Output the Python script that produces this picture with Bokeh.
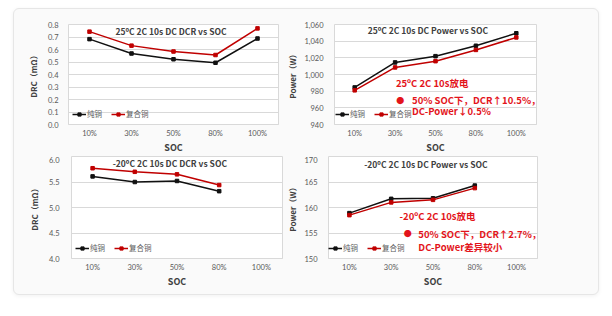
from bokeh.plotting import figure
from bokeh.models import ColumnDataSource, FactorRange, Range1d, Label, NumeralTickFormatter, FixedTicker
from bokeh.layouts import row, column
from bokeh.embed import file_html
from bokeh.resources import INLINE

soc = ["10%", "30%", "50%", "80%", "100%"]
dcr25_cu = [0.683, 0.568, 0.522, 0.494, 0.688]
dcr25_comp = [0.743, 0.631, 0.584, 0.556, 0.769]
pw25_cu = [984.5, 1014.5, 1022.0, 1034.5, 1049.5]
pw25_comp = [981.0, 1008.5, 1016.0, 1029.5, 1044.5]
dcrm20_cu = [5.61, 5.50, 5.52, 5.32]
dcrm20_comp = [5.77, 5.70, 5.65, 5.44]
pwm20_cu = [158.9, 161.7, 161.8, 164.3]
pwm20_comp = [158.5, 161.0, 161.5, 163.8]
names = ["纯铜", "复合铜"]

CJK = "Noto Sans CJK SC"
TICKF = "Lato"
RED_ANN = "#e3141b"


def make_fig(w, h, bl, br, bt, bb, y0, y1, step, fmt, ylabel, s1, s2, title, tx, ty, leg_loc, ystand, ylstand):
    p = figure(width=w, height=h, x_range=FactorRange(*soc), y_range=Range1d(y0, y1),
               output_backend="svg", toolbar_location=None, tools="", title_location=None,
               min_border_left=bl, min_border_right=br, min_border_top=bt, min_border_bottom=bb)
    p.background_fill_color = "white"
    p.border_fill_color = None
    p.outline_line_color = "#d9d9d9"
    p.xgrid.grid_line_color = None
    p.ygrid.grid_line_color = "#d9d9d9"
    p.ygrid.grid_line_width = 1
    n = int(round((y1 - y0) / step))
    p.yaxis.ticker = FixedTicker(ticks=[y0 + i * step for i in range(n + 1)])
    p.yaxis.formatter = NumeralTickFormatter(format=fmt)
    for ax in (p.xaxis[0], p.yaxis[0]):
        ax.axis_line_color = None
        ax.major_tick_line_color = None
        ax.minor_tick_line_color = None
        ax.major_tick_out = 0
        ax.major_tick_in = 0
        ax.minor_tick_out = 0
        ax.minor_tick_in = 0
        ax.major_label_text_font = TICKF
        ax.major_label_text_font_size = "7.5px"
        ax.major_label_text_color = "#595959"
        ax.axis_label_text_font = CJK
        ax.axis_label_text_font_style = "bold"
        ax.axis_label_text_color = "#404040"
    p.xaxis.axis_line_color = "#d9d9d9"
    p.yaxis.major_label_standoff = ystand
    p.xaxis.major_label_standoff = 4
    p.xaxis.axis_label = "SOC"
    p.xaxis.axis_label_text_font_size = "9px"
    p.xaxis.axis_label_standoff = 0
    p.yaxis.axis_label = ylabel
    p.yaxis.axis_label_text_font_size = "8px"
    p.yaxis.axis_label_standoff = ylstand

    src1 = ColumnDataSource(dict(x=soc[:len(s1)], y=s1))
    src2 = ColumnDataSource(dict(x=soc[:len(s2)], y=s2))
    p.line("x", "y", source=src1, color="#111111", line_width=1.5, legend_label=names[0])
    p.scatter("x", "y", source=src1, marker="square", size=3.5, color="#111111", legend_label=names[0])
    p.line("x", "y", source=src2, color="#c00000", line_width=1.5, legend_label=names[1])
    p.scatter("x", "y", source=src2, marker="square", size=3.5, color="#c00000", legend_label=names[1])

    lg = p.legend[0]
    lg.orientation = "horizontal"
    lg.location = leg_loc
    lg.background_fill_alpha = 0
    lg.border_line_color = None
    lg.label_text_font = CJK
    lg.label_text_font_size = "7.5px"
    lg.label_text_color = "#595959"
    lg.glyph_width = 14
    lg.glyph_height = 8
    lg.label_standoff = 1
    lg.spacing = 4
    lg.padding = 2
    lg.margin = 0
    lg.label_height = 8

    p.add_layout(Label(x=tx, y=ty, text=title, text_font=CJK, text_font_style="bold",
                       text_font_size="8.5px", text_color="#404040",
                       text_align="center", text_baseline="middle"))
    return p


p1 = make_fig(270, 147, 54, 6, 15, 28, 0.0, 0.8, 0.1, "0.0", "DRC（mΩ）",
              dcr25_cu, dcr25_comp, "25ºC 2C 10s DC DCR vs SOC", 2.44, 0.752, (4, 5), 10, 6)
p2 = make_fig(314, 147, 48, 62, 15, 28, 940, 1060, 20, "0,0", "Power（W）",
              pw25_cu, pw25_comp, "25ºC 2C 10s DC Power vs SOC", 2.31, 1053, (1, 5), 11, 3)
p3 = make_fig(270, 138, 57, 2, 0, 36, 4.0, 6.0, 0.5, "0.0", "DRC（mΩ）",
              dcrm20_cu, dcrm20_comp, "-20ºC 2C 10s DC DCR vs SOC", 2.33, 5.863, (4, 5), 12, 6)
p4 = make_fig(314, 138, 43, 61, 0, 36, 150, 170, 5, "0", "Power（W）",
              pwm20_cu, pwm20_comp, "-20ºC 2C 10s DC Power vs SOC", 2.33, 168.6, (0, 5), 11, 3)


def ann(p, x, y, text, size="9.5px"):
    p.add_layout(Label(x=x, y=y, text=text, text_font=CJK, text_font_style="bold",
                       text_font_size=size, text_color=RED_ANN,
                       text_align="left", text_baseline="middle"))


ann(p2, 1.52, 989.4, "25ºC 2C 10s放电")
ann(p2, 1.53, 969.4, "●", "8px")
ann(p2, 1.92, 969.4, "50% SOC下，DCR↑10.5%，")
ann(p2, 1.92, 956.5, "DC-Power↓0.5%")

ann(p4, 1.70, 158.24, "-20ºC 2C 10s放电")
ann(p4, 1.80, 154.9, "●", "8px")
ann(p4, 2.15, 154.9, "50% SOC下，DCR↑2.7%，")
ann(p4, 2.15, 152.35, "DC-Power差异较小")

layout = column(row(p1, p2), row(p3, p4), margin=(8, 0, 0, 13),
                styles={"border": "1px solid #e6e6e6", "border-radius": "6px",
                        "box-shadow": "0 1px 4px rgba(0,0,0,0.06)", "background": "#fafafa"})

open("out.html", "w").write(file_html(layout, INLINE))
